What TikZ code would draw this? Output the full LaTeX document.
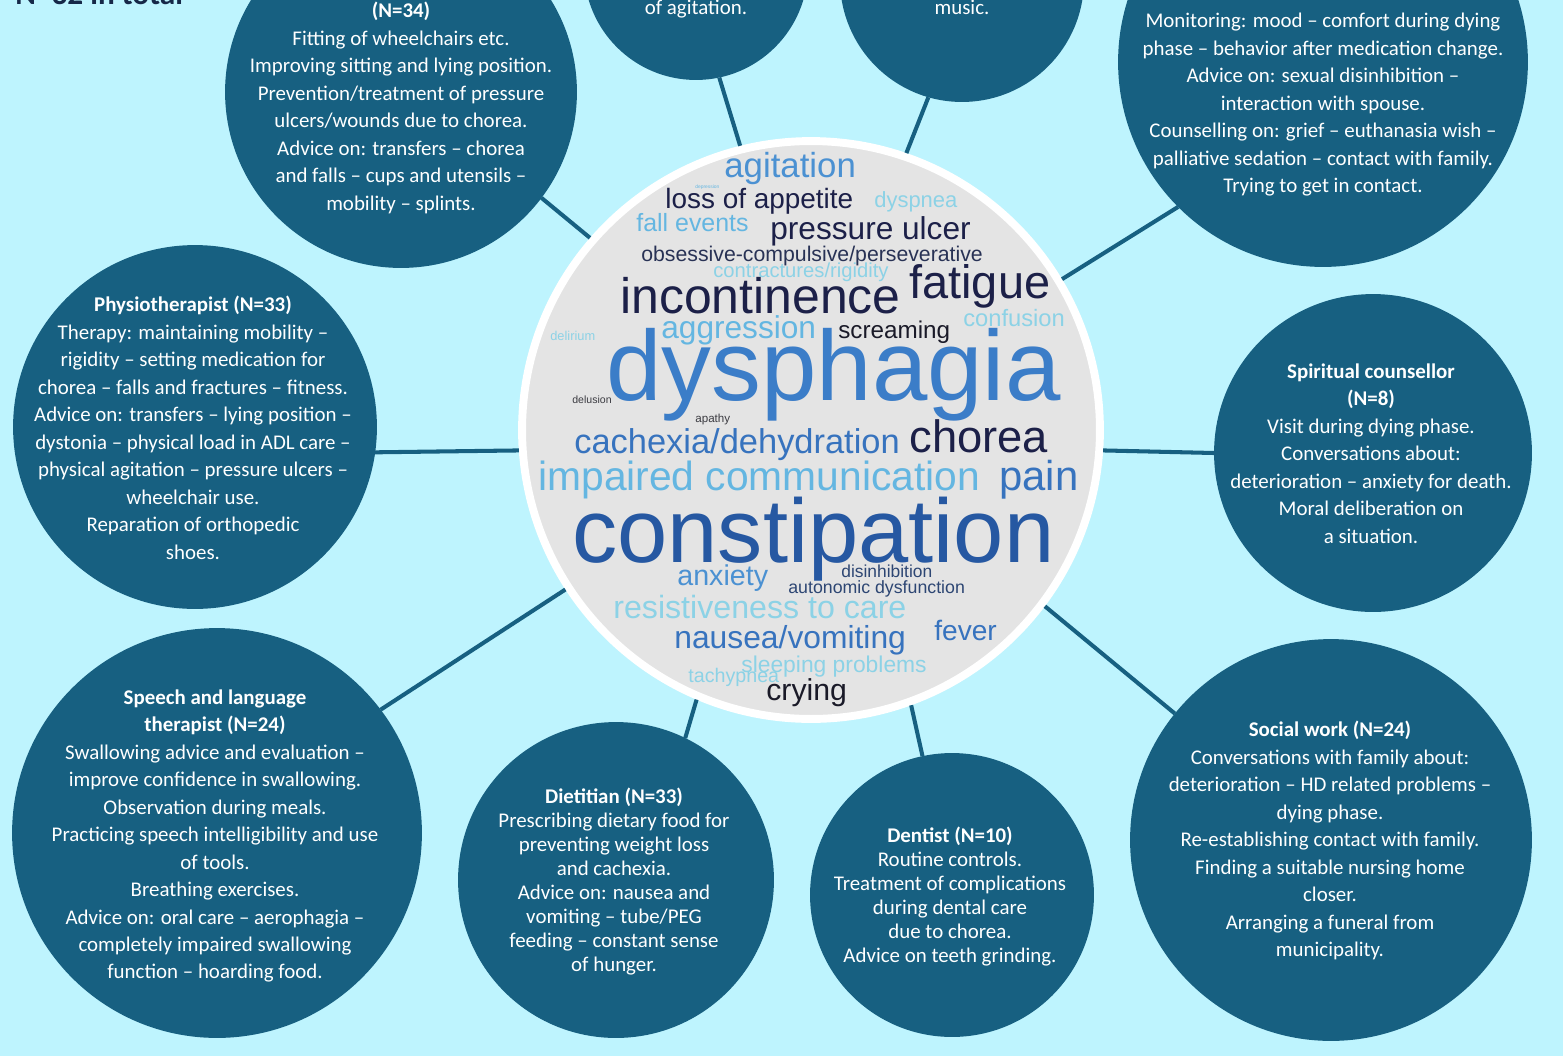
\documentclass[tikz,border=0pt]{standalone}
\usepackage{fontspec}
\setmainfont{Carlito}
\newfontfamily\cloudfont{Liberation Sans}
\usetikzlibrary{positioning}
\definecolor{bgcyan}{RGB}{190,244,254}
\definecolor{discblue}{RGB}{23,96,129}
\definecolor{hubgray}{RGB}{228,228,228}
\definecolor{totalnavy}{RGB}{22,40,72}
\definecolor{wcnavy}{RGB}{28,32,72}
\definecolor{wcink}{RGB}{26,26,40}
\definecolor{wcslate}{RGB}{40,50,85}
\definecolor{wcdusk}{RGB}{45,70,115}
\definecolor{wcgray}{RGB}{60,60,66}
\definecolor{wcblue}{RGB}{59,125,200}
\definecolor{wcroyal}{RGB}{38,88,162}
\definecolor{wcsteel}{RGB}{55,115,190}
\definecolor{wcmid}{RGB}{75,145,210}
\definecolor{wcsky}{RGB}{100,182,225}
\definecolor{wcpale}{RGB}{140,210,230}

\begin{document}
\begin{tikzpicture}[x=0.02cm,y=-0.02cm,
  bubble/.style={circle,fill=discblue,inner sep=0,outer sep=0,minimum size=#1*0.04cm},
  hub/.style={circle,fill=hubgray,draw=white,line width=4.5pt,inner sep=0,outer sep=2.25pt,minimum size=11.56cm},
  link/.style={draw=discblue,line width=2.3pt},
  info/.style={text=white,align=center,anchor=north,inner sep=0,font=\fontsize{11.9}{15.65}\selectfont},
  infotight/.style={info,font=\fontsize{11.9}{13.6}\selectfont},
  word/.style={anchor=base west,inner sep=0,font=\cloudfont\fontsize{#1}{#1}\selectfont}]
\useasboundingbox (0,0) rectangle (1563,1056);
\clip (0,0) rectangle (1563,1056);
\fill[bgcyan] (0,0) rectangle (1563,1056);

\node (total) at (15,4) [anchor=base west,inner sep=0,text=totalnavy,font=\bfseries\fontsize{17.8}{17.8}\selectfont] {N=32 in total};

% disciplines round the cloud
\node (occ) at (401,92) [bubble=176] {};
\node (agit) at (696,-32) [bubble=112] {};
\node (music) at (962,-20) [bubble=122] {};
\node (psych) at (1323,62) [bubble=205] {};
\node (physio) at (195,427) [bubble=182] {};
\node (spirit) at (1373,453) [bubble=159] {};
\node (speech) at (217,833) [bubble=205] {};
\node (diet) at (616,880) [bubble=158] {};
\node (dentist) at (952,895) [bubble=142] {};
\node (social) at (1331,840) [bubble=201] {};
\node (hub) at (811,430) [hub] {};

\draw[link] (hub.139.8) -- (occ.-37.8);
\draw[link] (hub.104.1) -- (agit.-78.9);
\draw[link] (hub.71.6) -- (music.-106.9);
\draw[link] (hub.31.4) -- (psych.-135);
\draw[link] (hub.184.5) -- (physio.-8.2);
\draw[link] (hub.-4.5) -- (spirit.180);
\draw[link] (hub.213.2) -- (speech.37.5);
\draw[link] (hub.247) -- (diet.64.9);
\draw[link] (hub.-70.9) -- (dentist.102.9);
\draw[link] (hub.-37.9) -- (social.141);

\node (occtext) at (401,2) [info] {\textbf{(N=34)}\\Fitting of wheelchairs etc.\\Improving sitting and lying position.\\Prevention/treatment of pressure\\ulcers/wounds due to chorea.\\Advice on: transfers -- chorea\\and falls -- cups and utensils --\\mobility -- splints.};
\node (agittext) at (696,0) [info] {of agitation.};
\node (musictext) at (962,0) [info] {music.};
\node (psychtext) at (1323,13) [info] {Monitoring: mood -- comfort during dying\\phase -- behavior after medication change.\\Advice on: sexual disinhibition --\\interaction with spouse.\\Counselling on: grief -- euthanasia wish --\\palliative sedation -- contact with family.\\Trying to get in contact.};
\node (physiotext) at (193,296) [info] {\textbf{Physiotherapist (N=33)}\\Therapy: maintaining mobility --\\rigidity -- setting medication for\\chorea -- falls and fractures -- fitness.\\Advice on: transfers -- lying position --\\dystonia -- physical load in ADL care --\\physical agitation -- pressure ulcers --\\wheelchair use.\\Reparation of orthopedic\\shoes.};
\node (spirittext) at (1371,363) [info] {\textbf{Spiritual counsellor}\\\textbf{(N=8)}\\Visit during dying phase.\\Conversations about:\\deterioration -- anxiety for death.\\Moral deliberation on\\a situation.};
\node (speechtext) at (215,689) [info] {\textbf{Speech and language}\\\textbf{therapist (N=24)}\\Swallowing advice and evaluation --\\improve confidence in swallowing.\\Observation during meals.\\Practicing speech intelligibility and use\\of tools.\\Breathing exercises.\\Advice on: oral care -- aerophagia --\\completely impaired swallowing\\function -- hoarding food.};
\node (diettext) at (614,788) [infotight] {\textbf{Dietitian (N=33)}\\Prescribing dietary food for\\preventing weight loss\\and cachexia.\\Advice on: nausea and\\vomiting -- tube/PEG\\feeding -- constant sense\\of hunger.};
\node (dentisttext) at (950,827) [infotight] {\textbf{Dentist (N=10)}\\Routine controls.\\Treatment of complications\\during dental care\\due to chorea.\\Advice on teeth grinding.};
\node (socialtext) at (1330,721) [info] {\textbf{Social work (N=24)}\\Conversations with family about:\\deterioration -- HD related problems --\\dying phase.\\Re-establishing contact with family.\\Finding a suitable nursing home\\closer.\\Arranging a funeral from\\municipality.};

% word cloud
\node (agitation) at (724,177) [word=19.8,text=wcmid] {agitation};
\node (depression) at (695,188) [word=2.8,text=wcsky] {depression};
\node (appetite) at (665,208) [word=15.9,text=wcnavy] {loss of appetite};
\node (dyspnea) at (874,207) [word=12.5,text=wcpale] {dyspnea};
\node (falls) at (636,231) [word=14.2,text=wcsky] {fall events};
\node (ulcer) at (770,239) [word=18.0,text=wcnavy] {pressure ulcer};
\node (obsessive) at (641,261) [word=12.1,text=wcslate] {obsessive-compulsive/perseverative};
\node (rigidity) at (713,277) [word=11.5,text=wcpale] {contractures/rigidity};
\node (incontinence) at (620,313) [word=28.4,text=wcnavy] {incontinence};
\node (fatigue) at (909,298) [word=26.7,text=wcnavy] {fatigue};
\node (aggression) at (661,338) [word=18.0,text=wcsky] {aggression};
\node (screaming) at (838,338) [word=13.8,text=wcink] {screaming};
\node (confusion) at (963,326) [word=13.5,text=wcpale] {confusion};
\node (delirium) at (550,340) [word=7.3,text=wcpale] {delirium};
\node (dysphagia) at (606,400) [word=56.7,text=wcblue] {dysphagia};
\node (delusion) at (572,403) [word=6.0,text=wcgray] {delusion};
\node (apathy) at (695,422) [word=6.6,text=wcgray] {apathy};
\node (cachexia) at (574,453) [word=19.6,text=wcsteel] {cachexia/dehydration};
\node (chorea) at (909,452) [word=25.8,text=wcnavy] {chorea};
\node (communication) at (538,490) [word=23.2,text=wcsky] {impaired communication};
\node (pain) at (999,490) [word=23.8,text=wcsteel] {pain};
\node (constipation) at (572,562) [word=51.4,text=wcroyal] {constipation};
\node (anxiety) at (677,585) [word=16.3,text=wcmid] {anxiety};
\node (disinhibition) at (841,577) [word=9.9,text=wcdusk] {disinhibition};
\node (autonomic) at (788,593) [word=10.1,text=wcdusk] {autonomic dysfunction};
\node (resistiveness) at (613,618) [word=18.3,text=wcpale] {resistiveness to care};
\node (nausea) at (674,648) [word=18.1,text=wcsteel] {nausea/vomiting};
\node (fever) at (934,640) [word=16.0,text=wcsteel] {fever};
\node (sleeping) at (741,672) [word=13.0,text=wcpale] {sleeping problems};
\node (tachypnea) at (688,682) [word=11.2,text=wcpale] {tachypnea};
\node (crying) at (766,700) [word=17.2,text=wcink] {crying};
\end{tikzpicture}
\end{document}
